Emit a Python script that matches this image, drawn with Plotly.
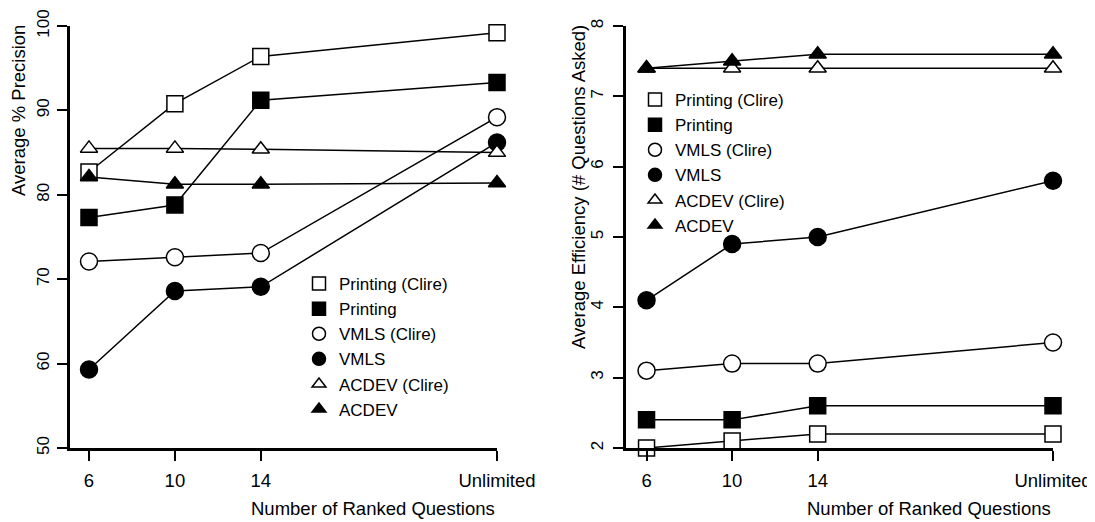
import plotly.graph_objects as go

# ---- data ----
x_vals = [6, 10, 14, 25]
x_labels = ["6", "10", "14", "Unlimited"]

series_names = ["Printing (Clire)", "Printing", "VMLS (Clire)", "VMLS", "ACDEV (Clire)", "ACDEV"]

prec_printing_clire = [82.7, 90.8, 96.4, 99.2]
prec_printing = [77.3, 78.8, 91.2, 93.3]
prec_vmls_clire = [72.1, 72.6, 73.1, 89.2]
prec_vmls = [59.3, 68.6, 69.1, 86.2]
prec_acdev_clire = [85.5, 85.5, 85.4, 85.0]
prec_acdev = [82.1, 81.25, 81.25, 81.4]

eff_printing_clire = [2.0, 2.1, 2.2, 2.2]
eff_printing = [2.4, 2.4, 2.6, 2.6]
eff_vmls_clire = [3.1, 3.2, 3.2, 3.5]
eff_vmls = [4.1, 4.9, 5.0, 5.8]
eff_acdev_clire = [7.4, 7.4, 7.4, 7.4]
eff_acdev = [7.4, 7.5, 7.6, 7.6]

prec_ticks = [50, 60, 70, 80, 90, 100]
eff_ticks = [2, 3, 4, 5, 6, 7, 8]

# ---- geometry (page body adds an 8px offset, so the figure is 8px smaller) ----
W, H = 1087, 514


def px(x):
    return x / W


def py(y):
    return 1 - y / H


FONT = "Liberation Sans, Arial, Helvetica, sans-serif"
FS = 18.5
FS_Y = 17
styles = [
    dict(symbol="square", color="white", size=16),
    dict(symbol="square", color="black", size=16),
    dict(symbol="circle", color="white", size=17),
    dict(symbol="circle", color="black", size=17),
    dict(symbol="triangle-up", color="white", size=15),
    dict(symbol="triangle-up", color="black", size=15),
]
leg_sizes = [13, 13, 13, 13, 12, 12]

prec_series = [prec_printing_clire, prec_printing, prec_vmls_clire, prec_vmls, prec_acdev_clire, prec_acdev]
eff_series = [eff_printing_clire, eff_printing, eff_vmls_clire, eff_vmls, eff_acdev_clire, eff_acdev]

fig = go.Figure()


def add_panel(series, xa, ya, legend_name):
    for name, ys, st in zip(series_names, series, styles):
        fig.add_trace(go.Scatter(
            x=x_vals, y=ys, mode="lines+markers", name=name, showlegend=False,
            xaxis=xa, yaxis=ya, cliponaxis=False,
            line=dict(color="black", width=1.5),
            marker=dict(symbol=st["symbol"], size=st["size"], color=st["color"],
                        line=dict(color="black", width=1.5)),
        ))
    for name, st, ls in zip(series_names, styles, leg_sizes):
        fig.add_trace(go.Scatter(
            x=[None], y=[None], mode="markers", name=name, showlegend=True,
            legend=legend_name, xaxis=xa, yaxis=ya,
            marker=dict(symbol=st["symbol"], size=ls, color=st["color"],
                        line=dict(color="black", width=1.5)),
        ))


add_panel(prec_series, "x", "y", "legend")
add_panel(eff_series, "x2", "y2", "legend2")

ydom = [py(440), py(18)]

axis_common = dict(
    showgrid=False, zeroline=False, showline=True, linecolor="black", linewidth=3,
    ticks="outside", ticklen=10, tickwidth=2, tickcolor="black", automargin=False,
    ticklabeloverflow="allow",
)
x_tickfont = dict(family=FONT, size=FS, color="black")
y_tickfont = dict(family=FONT, size=FS_Y, color="black")

title_font = dict(family=FONT, size=FS, color="black")
legend_font = dict(family=FONT, size=17, color="black")

fig.update_layout(
    width=W, height=H, autosize=False,
    margin=dict(l=0, r=0, t=0, b=0, pad=0, autoexpand=False),
    paper_bgcolor="white", plot_bgcolor="white",
    font=dict(family=FONT, size=FS, color="black"),
    xaxis=dict(domain=[px(62), px(489)], range=[5.115, 25], anchor="y",
               tickvals=x_vals, ticktext=x_labels, ticklabelstandoff=4,
               tickfont=x_tickfont, **axis_common),
    yaxis=dict(domain=ydom, range=[50, 100], anchor="x",
               tickvals=prec_ticks, tickangle=-90, ticklabelstandoff=1,
               tickfont=y_tickfont, **axis_common),
    xaxis2=dict(domain=[px(618), px(1045)], range=[5.04, 25], anchor="y2",
                tickvals=x_vals, ticktext=x_labels, ticklabelstandoff=4,
                tickfont=x_tickfont, **axis_common),
    yaxis2=dict(domain=ydom, range=[2, 8], anchor="x2",
                tickvals=eff_ticks, tickangle=-90, ticklabelstandoff=3,
                tickfont=y_tickfont, **axis_common),
    legend=dict(x=px(291), y=py(258), xanchor="left", yanchor="top",
                bgcolor="rgba(0,0,0,0)", font=legend_font,
                itemsizing="trace", tracegroupgap=0),
    legend2=dict(x=px(627), y=py(74), xanchor="left", yanchor="top",
                 bgcolor="rgba(0,0,0,0)", font=legend_font,
                 itemsizing="trace", tracegroupgap=0),
    annotations=[
        dict(text="Average % Precision", xref="paper", yref="paper",
             x=px(10.5), y=py(15), xanchor="center", yanchor="top", textangle=-90,
             showarrow=False, font=title_font),
        dict(text="Average Efficiency (# Questions Asked)", xref="paper", yref="paper",
             x=px(570), y=py(15), xanchor="center", yanchor="top", textangle=-90,
             showarrow=False, font=title_font),
        dict(text="Number of Ranked Questions", xref="paper", yref="paper",
             x=px(489), y=py(500), xanchor="right", yanchor="middle",
             showarrow=False, font=title_font),
        dict(text="Number of Ranked Questions", xref="paper", yref="paper",
             x=px(1045), y=py(500), xanchor="right", yanchor="middle",
             showarrow=False, font=title_font),
    ],
)

fig.write_html("out.html")
